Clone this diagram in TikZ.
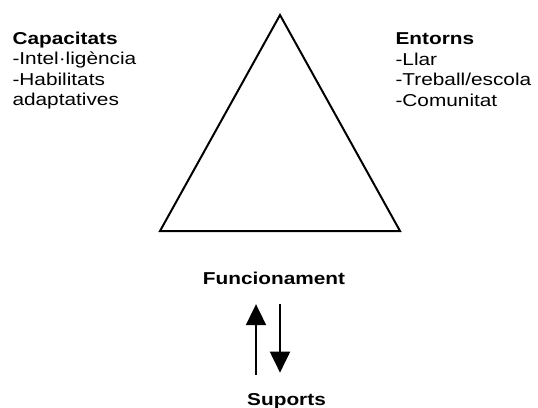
\documentclass[tikz,border=0pt]{standalone}
\usepackage{fontspec}
\setmainfont[FakeStretch=1.21]{Liberation Sans}
\usetikzlibrary{arrows.meta,positioning}

\begin{document}
\begin{tikzpicture}
  [x=0.75pt, y=-0.75pt, line width=1.5pt,
   txt/.style = {inner sep=0pt, font=\fontsize{12.9pt}{15.3pt}\selectfont},
   block/.style = {txt, align=left, anchor=base west},
   arr/.style = {-{Triangle[length=15.75pt, width=15pt]}}]
  \useasboundingbox (0,0) rectangle (538,407);
  % triangle
  \draw (280,15) -- (400,231) -- (160,231) -- cycle;
  % texts (base = last line)
  \node (cap) [block] at (11.5,105.5) {\textbf{Capacitats}\\-Intel·ligència\\-Habilitats\\adaptatives};
  \node (ent) [block] at (394.5,106) {\textbf{Entorns}\\-Llar\\-Treball/escola\\-Comunitat};
  \node (func) [txt, anchor=base] at (274,284) {\textbf{Funcionament}};
  \node (sup)  [txt, anchor=base] at (286.5,405) {\textbf{Suports}};
  % arrows
  \draw[arr, shorten <=13pt, shorten >=14.25pt] (sup.north -| 256,0) -- (func.south -| 256,0);
  \draw[arr, shorten <=14.25pt, shorten >=14.5pt] (func.south -| 280,0) -- (sup.north -| 280,0);
\end{tikzpicture}
\end{document}
